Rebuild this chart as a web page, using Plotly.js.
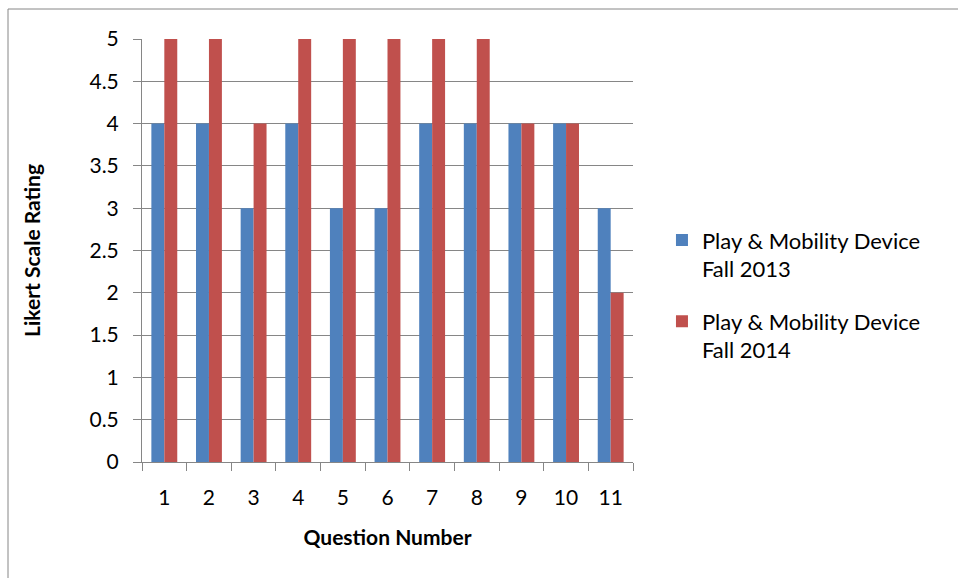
<!DOCTYPE html>
<html>
<head>
<meta charset="utf-8">
<script src="https://cdn.plot.ly/plotly-3.0.1.min.js"></script>
<style>
html,body{margin:0;padding:0;background:#fff;}
#chart{width:958px;height:578px;}
</style>
</head>
<body>
<div id="chart"></div>
<script>
const categories = ["1","2","3","4","5","6","7","8","9","10","11"];
const fall2013 = [4,4,3,4,3,3,4,4,4,4,3];
const fall2014 = [5,5,4,5,5,5,5,5,4,4,2];
const seriesNames = ["Play & Mobility Device<br>Fall 2013", "Play & Mobility Device<br>Fall 2014"];
const yTicks = [0,0.5,1,1.5,2,2.5,3,3.5,4,4.5,5];

const FONT = "Lato, 'Open Sans', sans-serif";
const traces = [
  {type:"bar", x:categories, y:fall2013, name:seriesNames[0], legendgroup:"g2013", marker:{color:"#4F81BD"}},
  {type:"bar", x:categories, y:fall2014, name:seriesNames[1], legendgroup:"g2014", marker:{color:"#C0504D"}}
];
const layout = {
  width:958, height:578,
  margin:{l:142, r:325, t:39, b:116},
  paper_bgcolor:"#fff", plot_bgcolor:"#fff",
  font:{family:FONT, size:21, color:"#000"},
  barmode:"group", bargap:0.42, bargroupgap:0,
  showlegend:true,
  legend:{x:1.059, y:0.574, xanchor:"left", yanchor:"top", font:{size:22}, valign:"top",
    traceorder:"grouped", tracegroupgap:21, itemwidth:30},
  xaxis:{type:"category", showline:true, linecolor:"#868686", linewidth:1,
    ticks:"outside", ticklen:8, tickcolor:"#868686", tickson:"boundaries",
    ticklabelstandoff:17, showgrid:false, tickfont:{size:21},
    title:{text:"<b>Question Number</b>", font:{size:21}, standoff:22}},
  yaxis:{range:[0,5], tickvals:yTicks, ticktext:yTicks.map(String), showline:true, linecolor:"#868686", linewidth:1,
    ticks:"outside", ticklen:8, tickcolor:"#868686", tickfont:{size:21},
    showgrid:true, gridcolor:"#868686", gridwidth:1, zeroline:false,
    ticklabelstandoff:10,
    title:{text:"<b>Likert Scale Rating</b>", font:{size:21}, standoff:43}},
  shapes:[{type:"rect", xref:"paper", yref:"paper", x0:-0.2729, x1:1.686, y0:-0.3026, y1:1.0709,
    line:{color:"#868686", width:1}}]
};
Plotly.newPlot("chart", traces, layout, {displayModeBar:false, staticPlot:true});
</script>
</body>
</html>
